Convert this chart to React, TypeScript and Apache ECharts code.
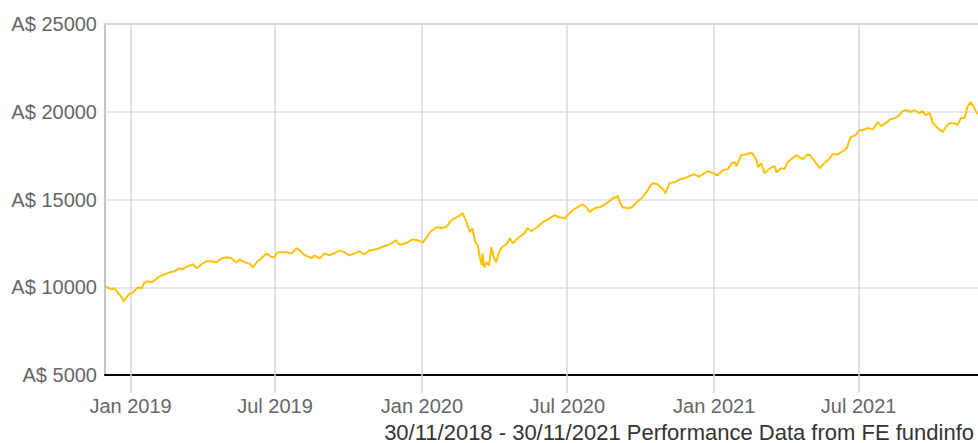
import React, { useEffect, useRef } from "react";
import * as echarts from "echarts";

const START_DATE = "2018-11-30";
const END_DATE = "2021-11-30";

// days after START_DATE
const dayOffsets = [
  0, 3, 8, 12, 16, 21, 23, 27, 31, 34, 37, 41, 46, 49, 53, 58, 62, 68, 75, 81,
  87, 93, 97, 103, 110, 115, 121, 127, 133, 140, 146, 153, 158, 165, 169, 172, 179, 181, 185, 190,
  196, 202, 209, 212, 216, 222, 227, 234, 240, 244, 250, 254, 259, 262, 269, 275, 281, 287, 294, 300,
  306, 313, 319, 325, 331, 340, 346, 353, 359, 364, 368, 373, 379, 385, 391, 398, 403, 407, 410, 415,
  422, 428, 434, 440, 445, 448, 453, 457, 460, 464, 467, 469, 472, 473, 475, 478, 481, 484, 487, 490,
  493, 497, 503, 507, 511, 517, 522, 525, 529, 534, 541, 547, 550, 555, 557, 563, 569, 576, 579, 586,
  592, 598, 603, 607, 613, 619, 623, 630, 636, 641, 642, 645, 648, 655, 660, 666, 672, 678, 682, 686,
  692, 699, 702, 707, 714, 720, 726, 732, 738, 744, 751, 755, 761, 767, 774, 780, 785, 789, 791, 797,
  804, 807, 811, 816, 818, 822, 826, 830, 835, 839, 841, 847, 851, 855, 861, 866, 870, 874, 879, 883,
  889, 895, 901, 908, 911, 918, 924, 929, 934, 940, 945, 949, 955, 962, 968, 972, 978, 984, 990, 995,
  999, 1005, 1009, 1014, 1020, 1024, 1028, 1033, 1037, 1043, 1049, 1053, 1058, 1064, 1068, 1072, 1077, 1080, 1084, 1089,
  1092, 1096,
];

const fundValues = [
  10050, 9990, 9880, 9940, 9710, 9420, 9190, 9420, 9650, 9650, 9820, 9990, 9940, 10220, 10340, 10280, 10390, 10620, 10740, 10850,
  10910, 11080, 11020, 11190, 11310, 11080, 11310, 11480, 11480, 11420, 11650, 11710, 11650, 11420, 11590, 11480, 11360, 11360, 11130, 11420,
  11650, 11930, 11710, 11710, 11990, 11990, 11990, 11930, 12220, 12100, 11820, 11760, 11650, 11820, 11650, 11930, 11820, 11930, 12100, 11990,
  11820, 11930, 12050, 11880, 12100, 12160, 12280, 12390, 12500, 12680, 12450, 12450, 12560, 12730, 12680, 12560, 12850, 13130, 13250, 13420,
  13360, 13470, 13820, 13990, 14100, 14220, 13700, 13130, 13360, 12560, 12390, 11820, 11250, 11930, 11130, 11420, 11250, 12280, 11710, 11420,
  11930, 12280, 12450, 12790, 12500, 12790, 12960, 13070, 13360, 13190, 13420, 13650, 13760, 13870, 13930, 14100, 13990, 13930, 14100, 14390,
  14560, 14730, 14560, 14270, 14500, 14560, 14620, 14840, 15070, 15130, 15240, 14840, 14560, 14500, 14560, 14840, 15070, 15410, 15700, 15930,
  15870, 15590, 15360, 15930, 15990, 16160, 16210, 16330, 16440, 16300, 16500, 16610, 16500, 16380, 16670, 16730, 17070, 17130, 16900, 17530,
  17580, 17640, 17640, 17240, 16840, 17070, 16500, 16670, 16840, 16900, 16560, 16780, 16730, 17130, 17350, 17530, 17410, 17300, 17530, 17530,
  17180, 16780, 17070, 17350, 17580, 17580, 17750, 17930, 18550, 18670, 18950, 18950, 19070, 19010, 19410, 19180, 19350, 19580, 19640, 19810,
  20040, 20090, 19980, 20090, 19920, 20040, 19810, 19920, 19350, 19070, 18840, 19120, 19350, 19350, 19240, 19640, 19640, 20260, 20550, 20210,
  19920, 19920,
];

const tickDates = ["2019-01-01", "2019-07-01", "2020-01-01", "2020-07-01", "2021-01-01", "2021-07-01"];
const yMin = 5000;
const yMax = 25000;
const yStep = 5000;
const currencyPrefix = "A$ ";
const caption = "30/11/2018 - 30/11/2021 Performance Data from FE fundinfo";
const MONTHS = ["Jan", "Feb", "Mar", "Apr", "May", "Jun", "Jul", "Aug", "Sep", "Oct", "Nov", "Dec"];

const DAY = 86400000;
const FONT = "'Liberation Sans', Arial, Helvetica, sans-serif";

function utc(s: string): number {
  const [y, m, d] = s.split("-").map(Number);
  return Date.UTC(y, m - 1, d);
}

export default function App() {
  const ref = useRef<HTMLDivElement>(null);

  useEffect(() => {
    if (!ref.current) return;
    const chart = echarts.init(ref.current, undefined, { renderer: "svg" });
    const start = utc(START_DATE);
    const end = utc(END_DATE);
    const tickTs = tickDates.map(utc);
    const data = dayOffsets.map((d, i) => [start + d * DAY, fundValues[i]]);

    chart.setOption({
      animation: false,
      grid: {
        left: 105,
        right: 10,
        top: 24,
        bottom: 68,
        show: true,
        borderColor: "#c4c4c4",
        borderWidth: 2,
        backgroundColor: "transparent",
      },
      xAxis: {
        type: "value",
        min: start,
        max: end,
        axisLine: { show: true, onZero: false, lineStyle: { color: "#000000", width: 2 } },
        axisTick: {
          show: true,
          customValues: tickTs,
          length: 18,
          lineStyle: { color: "#ccd6eb", width: 1.5 },
        },
        axisLabel: {
          customValues: tickTs,
          formatter: (v: number) => {
            const dt = new Date(v);
            return MONTHS[dt.getUTCMonth()] + " " + dt.getUTCFullYear();
          },
          color: "#666666",
          fontSize: 20,
          fontFamily: FONT,
          margin: 21,
        },
        splitLine: { show: false },
      },
      yAxis: {
        type: "value",
        min: yMin,
        max: yMax,
        interval: yStep,
        axisLine: { show: false },
        axisTick: { show: false },
        axisLabel: {
          formatter: (v: number) => currencyPrefix + v,
          color: "#666666",
          fontSize: 20,
          fontFamily: FONT,
          margin: 8,
        },
        splitLine: { lineStyle: { color: "#e0e0e0", width: 1.5 } },
      },
      series: [
        {
          type: "line",
          data,
          symbol: "none",
          showSymbol: false,
          lineStyle: { color: "#FFC107", width: 2 },
          z: 3,
          markLine: {
            silent: true,
            z: 1,
            symbol: ["none", "none"],
            label: { show: false },
            lineStyle: { color: "#d6d9e0", width: 1.5, type: "solid" },
            data: tickTs.map((t) => ({ xAxis: t })),
          },
        },
      ],
      graphic: [
        {
          type: "text",
          x: 974,
          y: 432,
          style: {
            text: caption,
            fill: "#333333",
            font: `22px ${FONT}`,
            align: "right",
            verticalAlign: "middle",
          },
        },
      ],
    });

    return () => chart.dispose();
  }, []);

  return (
    <div
      style={{
        position: "fixed",
        left: 0,
        top: 0,
        width: 978,
        height: 443,
        overflow: "hidden",
        background: "#ffffff",
      }}
    >
      <div ref={ref} style={{ width: 990, height: 443 }} />
    </div>
  );
}
